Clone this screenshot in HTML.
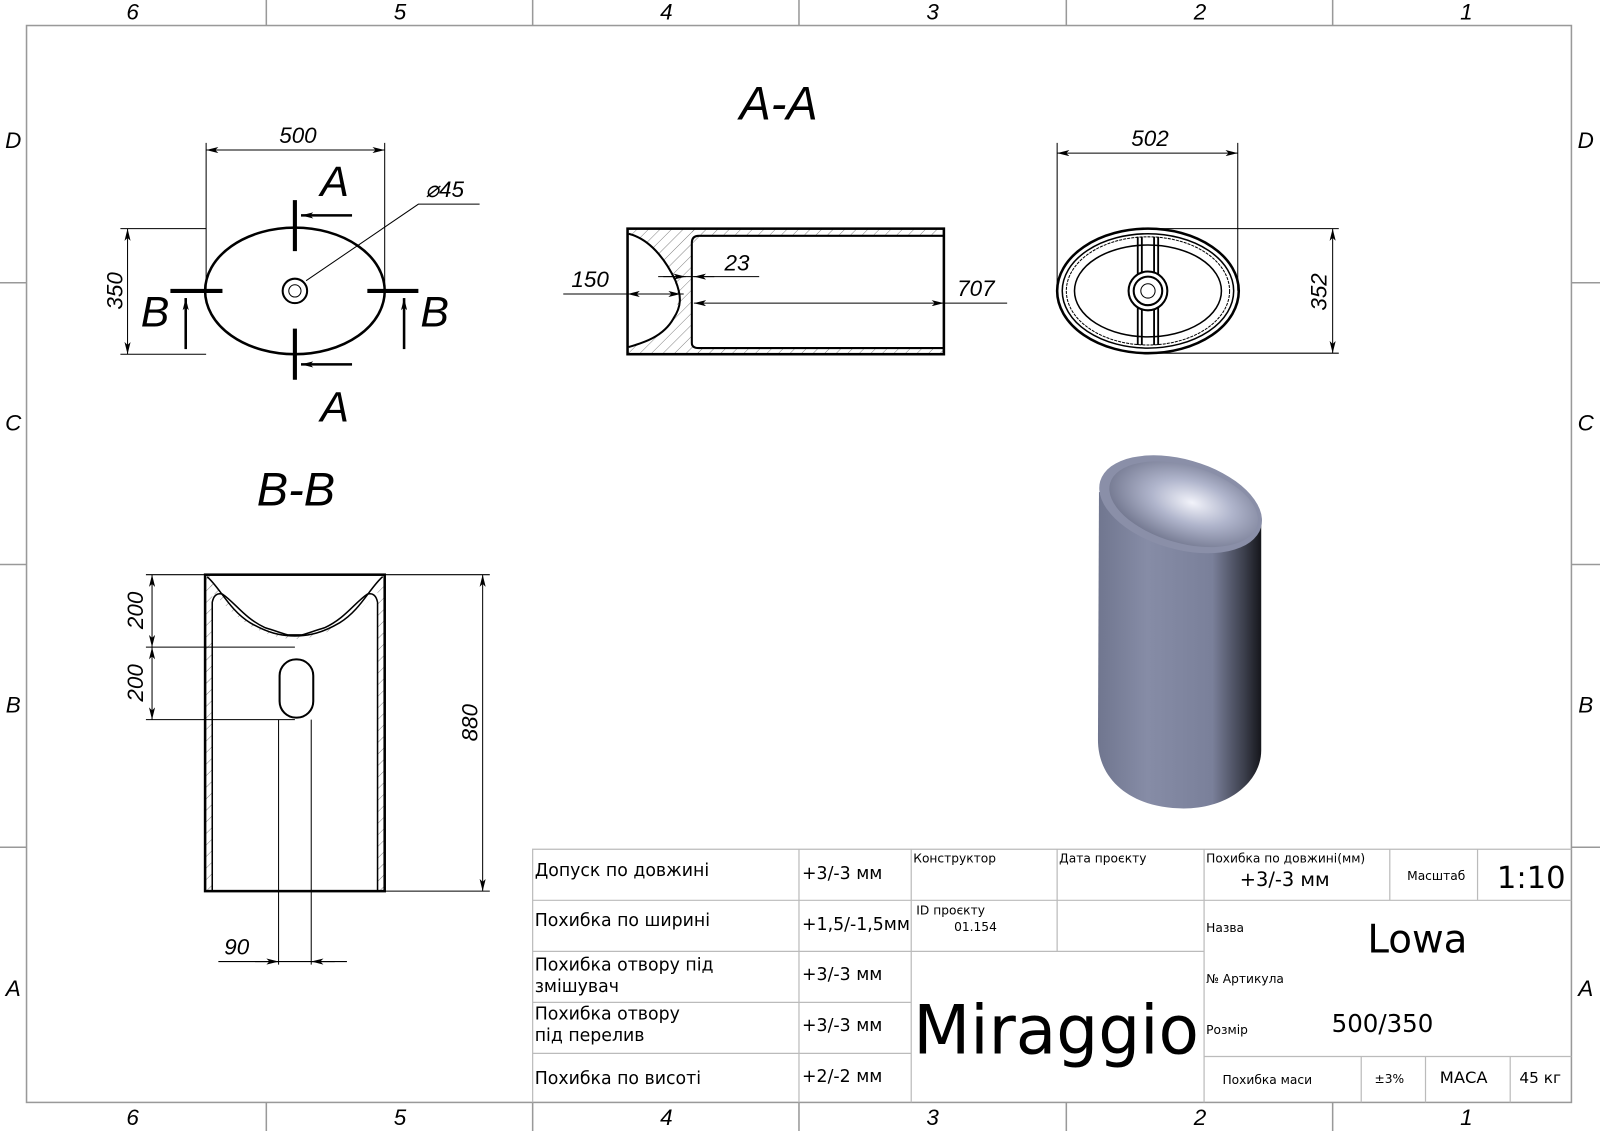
<!DOCTYPE html>
<html><head><meta charset="utf-8"><style>html,body{margin:0;padding:0;background:#fff}svg{display:block}</style></head><body>
<svg width="1600" height="1131" viewBox="0 0 1568 1108" preserveAspectRatio="none" xmlns="http://www.w3.org/2000/svg" font-family="Liberation Sans, sans-serif">
<defs>
<marker id="ar" viewBox="0 0 12 6" refX="12" refY="3" markerWidth="12" markerHeight="6" orient="auto-start-reverse" markerUnits="userSpaceOnUse"><path d="M0,0L12,3L0,6L3,3z" fill="#000"/></marker>
<pattern id="hatch" width="8" height="8" patternUnits="userSpaceOnUse" patternTransform="rotate(45)"><line x1="0" y1="0" x2="0" y2="8" stroke="#666" stroke-width="0.8"/></pattern>
<linearGradient id="body" x1="0" x2="1" y1="0" y2="0"><stop offset="0" stop-color="#70768f"/><stop offset="0.3" stop-color="#868ca6"/><stop offset="0.7" stop-color="#7a809a"/><stop offset="0.9" stop-color="#3a3d4a"/><stop offset="1" stop-color="#15161b"/></linearGradient>
<radialGradient id="bowl" cx="0.55" cy="0.45" r="0.6"><stop offset="0" stop-color="#f2f3fa"/><stop offset="0.45" stop-color="#b0b5cc"/><stop offset="1" stop-color="#6f748c"/></radialGradient>
</defs>
<rect width="1568" height="1108" fill="#fff"/>
<g stroke="#999" stroke-width="1.5" fill="none">
<rect x="26" y="25" width="1514" height="1055"/>
<path d="M261,0V25M522,0V25M783,0V25M1045,0V25M1306,0V25M261,1080V1108M522,1080V1108M783,1080V1108M1045,1080V1108M1306,1080V1108M0,277H26M0,553H26M0,830H26M1540,277H1568M1540,553H1568M1540,830H1568"/>
</g>
<g font-size="22" font-style="italic" text-anchor="middle" fill="#000">
<text x="130" y="19">6</text><text x="392" y="19">5</text><text x="653" y="19">4</text><text x="914" y="19">3</text><text x="1176" y="19">2</text><text x="1437" y="19">1</text>
<text x="130" y="1102">6</text><text x="392" y="1102">5</text><text x="653" y="1102">4</text><text x="914" y="1102">3</text><text x="1176" y="1102">2</text><text x="1437" y="1102">1</text>
<text x="13" y="145">D</text><text x="13" y="422">C</text><text x="13" y="698">B</text><text x="13" y="976">A</text>
<text x="1554" y="145">D</text><text x="1554" y="422">C</text><text x="1554" y="698">B</text><text x="1554" y="976">A</text>
</g>

<g stroke="#000" fill="none">
<ellipse cx="289" cy="285" rx="88" ry="62" stroke-width="2.5"/>
<circle cx="289" cy="285" r="12" stroke-width="2"/><circle cx="289" cy="285" r="6" stroke-width="1"/>
<g stroke-width="1">
<path d="M202,285V140M377,285V140M202,224H118M202,347H118"/>
<line x1="202" y1="147" x2="377" y2="147" marker-start="url(#ar)" marker-end="url(#ar)"/>
<line x1="125" y1="224" x2="125" y2="347" marker-start="url(#ar)" marker-end="url(#ar)"/>
<path d="M300,275L410,200H470"/>
</g>
<g stroke-width="4"><path d="M289,196V246M289,322V372M167,285H218M360,285H410"/></g>
<g stroke-width="2.5"><line x1="345" y1="211" x2="295" y2="211" marker-end="url(#ar)"/><line x1="345" y1="357" x2="295" y2="357" marker-end="url(#ar)"/><line x1="182" y1="342" x2="182" y2="292" marker-end="url(#ar)"/><line x1="396" y1="342" x2="396" y2="292" marker-end="url(#ar)"/></g>
</g>
<g font-style="italic" fill="#000">
<text x="292" y="140" font-size="22" text-anchor="middle">500</text>
<text x="120" y="285" font-size="22" text-anchor="middle" transform="rotate(-90 120 285)">350</text>
<text x="417" y="193" font-size="22">⌀45</text>
<text x="328" y="192" font-size="42" text-anchor="middle">A</text>
<text x="328" y="413" font-size="42" text-anchor="middle">A</text>
<text x="152" y="320" font-size="42" text-anchor="middle">B</text>
<text x="426" y="320" font-size="42" text-anchor="middle">B</text>
<text x="763" y="117" font-size="46" text-anchor="middle">A-A</text>
<text x="290" y="495" font-size="46" text-anchor="middle">B-B</text>
</g>

<g stroke="#000" fill="none">
<path d="M615,224H685V234L678,240V340H685V347H615Z" fill="url(#hatch)" stroke="none"/>
<path d="M615,230C640,235 655,258 660,270C665,290 665,300 660,310C650,330 630,335 615,340V230Z" fill="#fff" stroke="none"/>
<path d="M678,224H925V230H678Z M678,341H925V347H678Z" fill="url(#hatch)" stroke="none"/>
<rect x="615" y="224" width="310" height="123" stroke-width="2.5"/>
<path d="M925,231H685Q678,231 678,238V336Q678,341 685,341H925" stroke-width="2"/>
<path d="M616,229C640,235 655,260 662,275C668,290 668,300 660,312C650,330 630,336 616,340" stroke-width="2"/>
<g stroke-width="1">
<line x1="552" y1="288" x2="670" y2="288"/>
<line x1="632" y1="288" x2="615" y2="288" marker-end="url(#ar)"/>
<line x1="650" y1="288" x2="667" y2="288" marker-end="url(#ar)"/>
<line x1="645" y1="271" x2="744" y2="271"/>
<line x1="650" y1="271" x2="672" y2="271" marker-end="url(#ar)"/>
<line x1="700" y1="271" x2="680" y2="271" marker-end="url(#ar)"/>
<line x1="680" y1="297" x2="925" y2="297" marker-start="url(#ar)" marker-end="url(#ar)"/>
<line x1="925" y1="297" x2="987" y2="297"/>
</g>
</g>
<g font-style="italic" font-size="22" fill="#000">
<text x="560" y="281">150</text><text x="710" y="265">23</text><text x="938" y="290">707</text>
</g>

<g stroke="#000" fill="none">
<ellipse cx="1125" cy="285" rx="89" ry="61" stroke-width="2.5"/>
<ellipse cx="1125" cy="285" rx="84" ry="56" stroke-width="1.5"/>
<ellipse cx="1125" cy="285" rx="80" ry="53" stroke-width="1" stroke-dasharray="3 1"/>
<ellipse cx="1125" cy="285" rx="72" ry="45" stroke-width="1.5"/>
<path d="M1115,232V338M1119,232V338M1131,232V338M1135,232V338" stroke-width="1.8"/>
<circle cx="1125" cy="285" r="19" fill="#fff" stroke-width="2"/>
<circle cx="1125" cy="285" r="14" stroke-width="2"/><circle cx="1125" cy="285" r="7" stroke-width="1"/>
<g stroke-width="1">
<path d="M1036,285V140M1213,285V140M1125,224H1312M1125,346H1312"/>
<line x1="1036" y1="150" x2="1213" y2="150" marker-start="url(#ar)" marker-end="url(#ar)"/>
<line x1="1306" y1="224" x2="1306" y2="346" marker-start="url(#ar)" marker-end="url(#ar)"/>
</g>
</g>
<g font-style="italic" font-size="22" fill="#000">
<text x="1127" y="143" text-anchor="middle">502</text>
<text x="1300" y="286" text-anchor="middle" transform="rotate(-90 1300 286)">352</text>
</g>

<g stroke="#000" fill="none">
<rect x="201" y="563" width="7" height="310" fill="url(#hatch)" stroke="none"/>
<rect x="370" y="563" width="7" height="310" fill="url(#hatch)" stroke="none"/>
<path d="M203,565C215,575 225,598 245,610C262,620 275,623 289,623C303,623 316,620 333,610C353,598 363,575 375,565L370,580C360,590 350,602 333,613C316,622 303,626 289,626C275,626 262,622 245,613C228,602 218,590 208,580Z" fill="url(#hatch)" stroke="none"/>
<rect x="201" y="563" width="176" height="310" stroke-width="2.5"/>
<path d="M208,873V590Q210,580 218,582C230,590 240,606 260,615C270,618 275,620 282,622H296C303,620 308,618 318,615C338,606 348,590 360,582Q368,580 370,590V873" stroke-width="1.5"/>
<path d="M203,565C215,575 225,598 245,610C262,620 275,623 289,623C303,623 316,620 333,610C353,598 363,575 375,565" stroke-width="1.5"/>
<rect x="274" y="646" width="33" height="57" rx="16" stroke-width="2"/>
<g stroke-width="1">
<path d="M143,563H201M377,563H480M143,634H289M143,705H289M377,873H480M273,705V945M305,705V945"/>
<line x1="149" y1="563" x2="149" y2="634" marker-start="url(#ar)" marker-end="url(#ar)"/>
<line x1="149" y1="634" x2="149" y2="705" marker-start="url(#ar)" marker-end="url(#ar)"/>
<line x1="473" y1="563" x2="473" y2="873" marker-start="url(#ar)" marker-end="url(#ar)"/>
<path d="M214,942H340"/>
<line x1="250" y1="942" x2="273" y2="942" marker-end="url(#ar)"/>
<line x1="328" y1="942" x2="305" y2="942" marker-end="url(#ar)"/>
</g>
</g>
<g font-style="italic" font-size="22" fill="#000">
<text x="140" y="598" text-anchor="middle" transform="rotate(-90 140 598)">200</text>
<text x="140" y="669" text-anchor="middle" transform="rotate(-90 140 669)">200</text>
<text x="468" y="708" text-anchor="middle" transform="rotate(-90 468 708)">880</text>
<text x="232" y="935" text-anchor="middle">90</text>
</g>

<!-- 3D render -->
<g>
<path d="M1077,482L1076,725C1076,765 1110,792 1160,792C1205,792 1236,765 1236,735L1236,512Z" fill="url(#body)"/>
<ellipse cx="1157" cy="494" rx="82" ry="44" transform="rotate(16 1157 494)" fill="#8a8fa8"/>
<ellipse cx="1160" cy="494" rx="75" ry="38" transform="rotate(16 1160 494)" fill="url(#bowl)"/>
</g>

<g stroke="#bbb" stroke-width="1.2" fill="none">
<path d="M522,1080V832H1540M522,882H1180M522,932H1180M522,982H893M522,1032H893M783,832V1080M893,832V1080M1036,832V932M893,932H1180M1180,832V1080M1362,832V882M1448,832V882M1180,882H1540M1180,1035H1540M1334,1035V1080M1397,1035V1080M1480,1035V1080"/>
</g>
<g fill="#000" font-family="DejaVu Sans, sans-serif">
<g font-size="17">
<text x="524" y="858">Допуск по довжині</text>
<text x="524" y="907">Похибка по ширині</text>
<text x="524" y="951">Похибка отвору під</text><text x="524" y="972">змішувач</text>
<text x="524" y="999">Похибка отвору</text><text x="524" y="1020">під перелив</text>
<text x="524" y="1062">Похибка по висоті</text>
<text x="786" y="861">+3/-3 мм</text>
<text x="786" y="911">+1,5/-1,5мм</text>
<text x="786" y="960">+3/-3 мм</text>
<text x="786" y="1010">+3/-3 мм</text>
<text x="786" y="1060">+2/-2 мм</text>
</g>
<g font-size="12">
<text x="895" y="845">Конструктор</text><text x="1038" y="845">Дата проєкту</text>
<text x="898" y="896">ID проєкту</text><text x="935" y="912">01.154</text>
<text x="1182" y="845">Похибка по довжині(мм)</text>
<text x="1379" y="862">Масштаб</text>
<text x="1182" y="913">Назва</text><text x="1182" y="963">№ Артикула</text><text x="1182" y="1013">Розмір</text>
<text x="1198" y="1062">Похибка маси</text><text x="1347" y="1061">±3%</text>
</g>
<text x="1215" y="868" font-size="19">+3/-3 мм</text>
<text x="1467" y="870" font-size="30">1:10</text>
<text x="1340" y="933" font-size="38">Lowa</text>
<text x="1305" y="1011" font-size="24">500/350</text>
<text x="1411" y="1061" font-size="16">МАСА</text>
<text x="1489" y="1061" font-size="15">45 кг</text>
<text x="895" y="1032" font-size="66" textLength="280" lengthAdjust="spacingAndGlyphs">Miraggio</text>
</g>
</svg>
</body></html>
